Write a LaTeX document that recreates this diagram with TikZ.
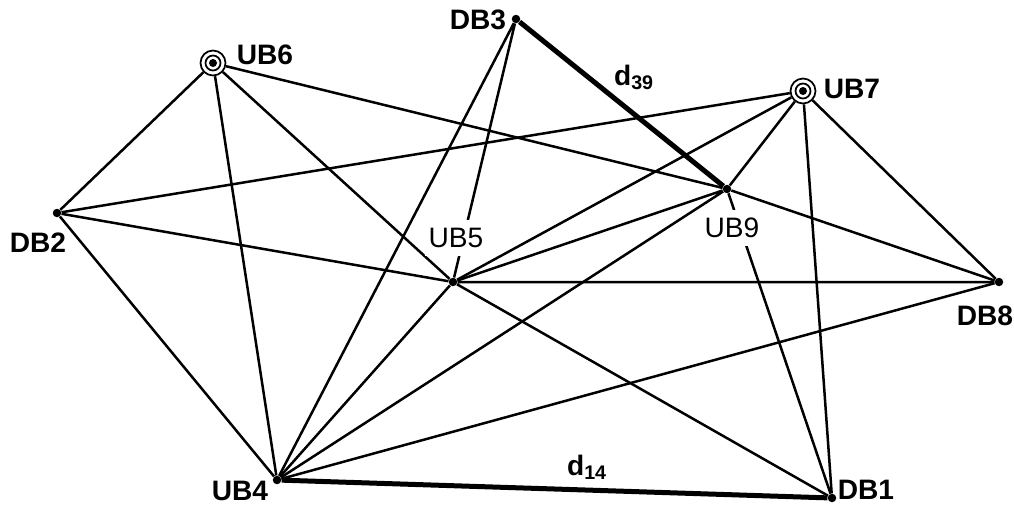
\documentclass[tikz,border=0pt]{standalone}
\usepackage{fontspec}
\setmainfont{Liberation Sans}
\begin{document}
\begin{tikzpicture}[x=0.02cm, y=-0.02cm,
    pt/.style={circle, fill, inner sep=0pt, minimum size=0.17cm},
    hub/.style={circle, draw, line width=0.035cm, inner sep=0pt, minimum size=0.5cm},
    link/.style={line width=0.05cm},
    dist/.style={line width=0.1cm},
    lbl/.style={font=\fontsize{16}{19}\selectfont\bfseries, inner sep=1pt},
    cut/.style={font=\fontsize{16}{19}\selectfont, fill=white, inner xsep=2pt, inner ysep=0.17cm}]
  \useasboundingbox (0,0) rectangle (1014,504);
  % stations
  \node[pt]  (DB3) at (516,19)  {};
  \node[hub] (UB6) at (213,63)  {};
  \node[hub] (UB7) at (803,91)  {};
  \node[pt]  (DB2) at (57,213)  {};
  \node[pt]  (UB9) at (727,189) {};
  \node[pt]  (UB5) at (453,282) {};
  \node[pt]  (DB8) at (999,282) {};
  \node[pt]  (UB4) at (277,480) {};
  \node[pt]  (DB1) at (832,498) {};
  \foreach \n in {UB6,UB7} {
    \fill (\n) circle (0.08cm);
    \draw[line width=0.035cm] (\n) circle (0.15cm);
  }
  % links
  \draw[link] (DB2) -- (UB6) (DB2) -- (UB7) (DB2) -- (UB5) (DB2) -- (UB4);
  \draw[link] (UB6) -- (UB4) (UB6) -- (UB5) (UB6) -- (UB9);
  \draw[link] (DB3) -- (UB4) (DB3) -- (UB5);
  \draw[link] (UB7) -- (UB5) (UB7) -- (UB9) (UB7) -- (DB1) (UB7) -- (DB8);
  \draw[link] (UB9) -- (UB5) (UB9) -- (UB4) (UB9) -- (DB8) (UB9) -- (DB1);
  \draw[link] (UB5) -- (UB4) (UB5) -- (DB8) (UB5) -- (DB1);
  \draw[link] (UB4) -- (DB8);
  \draw[dist] (DB3) -- (UB9);
  \draw[dist] (UB4) -- (DB1);
  % labels
  \node[lbl] (tDB3) at (478,20)  {DB3};
  \node[lbl] (tUB6) at (265,55)  {UB6};
  \node[lbl] (tUB7) at (852,89)  {UB7};
  \node[lbl] (tDB2) at (38,243)  {DB2};
  \node[lbl] (tDB8) at (985,316) {DB8};
  \node[lbl] (tUB4) at (240,491) {UB4};
  \node[lbl] (tDB1) at (866,490) {DB1};
  \node[cut] (tUB5) at (456,238) {UB5};
  \node[cut] (tUB9) at (732,228) {UB9};
  \node[lbl, anchor=base west] (d39) at (612,85)  {d\textsubscript{39}};
  \node[lbl, anchor=base west] (d14) at (565,475) {d\textsubscript{14}};
\end{tikzpicture}
\end{document}
